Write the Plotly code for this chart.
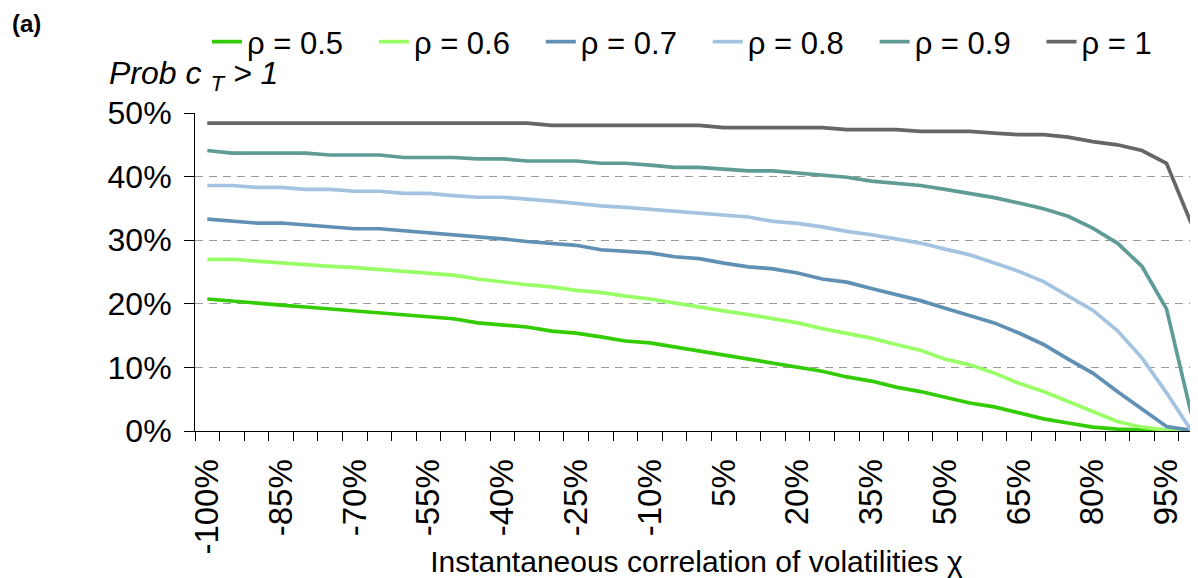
import plotly.graph_objects as go

# ── data ───────────────────────────────────────────────────────────────────────
CHI = [-100, -95, -90, -85, -80, -75, -70, -65, -60, -55, -50, -45, -40, -35,
       -30, -25, -20, -15, -10, -5, 0, 5, 10, 15, 20, 25, 30, 35, 40, 45, 50,
       55, 60, 65, 70, 75, 80, 85, 90, 95, 100]

TICK_VALS = [-100, -85, -70, -55, -40, -25, -10, 5, 20, 35, 50, 65, 80, 95]
TICK_TEXT = [f"{v}%" for v in TICK_VALS]

Y_VALS = [0, 10, 20, 30, 40, 50]
Y_TEXT = [f"{v}%" for v in Y_VALS]

RHO_05 = [20.75, 20.4, 20.1, 19.8, 19.5, 19.2, 18.9, 18.65, 18.3, 18.0, 17.65, 17.0,
          16.65, 16.35, 15.7, 15.4, 14.8, 14.15, 13.85, 13.2, 12.6, 11.95, 11.3, 10.7,
          10.05, 9.4, 8.5, 7.85, 6.9, 6.2, 5.3, 4.4, 3.8, 2.9, 1.9, 1.25, 0.6, 0.3,
          0.15, 0.05, 0.0]
RHO_06 = [27.0, 27.0, 26.7, 26.4, 26.15, 25.9, 25.7, 25.4, 25.1, 24.8, 24.5, 23.9,
          23.4, 23.0, 22.65, 22.1, 21.8, 21.2, 20.75, 20.1, 19.5, 18.9, 18.3, 17.65,
          17.0, 16.1, 15.4, 14.6, 13.6, 12.7, 11.3, 10.4, 9.1, 7.5, 6.2, 4.65, 3.1,
          1.5, 0.6, 0.15, 0.0]
RHO_07 = [33.3, 33.0, 32.7, 32.7, 32.4, 32.1, 31.8, 31.8, 31.5, 31.2, 30.9, 30.5,
          30.2, 29.8, 29.55, 29.2, 28.5, 28.25, 28.0, 27.4, 27.1, 26.4, 25.8, 25.5,
          24.85, 23.9, 23.4, 22.4, 21.4, 20.5, 19.3, 18.1, 17.0, 15.4, 13.6, 11.3,
          9.1, 6.2, 3.5, 0.7, 0.1]
RHO_08 = [38.6, 38.6, 38.3, 38.3, 38.0, 38.0, 37.7, 37.7, 37.35, 37.35, 37.0, 36.75,
          36.75, 36.5, 36.15, 35.8, 35.4, 35.15, 34.85, 34.6, 34.3, 33.95, 33.65, 32.95,
          32.65, 32.1, 31.4, 30.85, 30.2, 29.55, 28.6, 27.7, 26.4, 25.1, 23.5, 21.3,
          19.0, 15.8, 11.5, 6.0, 0.1]
RHO_09 = [44.1, 43.7, 43.7, 43.7, 43.7, 43.4, 43.4, 43.4, 43.0, 43.0, 43.0, 42.8,
          42.8, 42.45, 42.45, 42.45, 42.1, 42.1, 41.8, 41.45, 41.45, 41.2, 40.9, 40.9,
          40.55, 40.25, 39.9, 39.3, 39.0, 38.6, 38.0, 37.4, 36.7, 35.85, 34.95, 33.75,
          31.9, 29.55, 25.9, 19.2, 2.8]
RHO_10 = [48.4, 48.4, 48.4, 48.4, 48.4, 48.4, 48.4, 48.4, 48.4, 48.4, 48.4, 48.4,
          48.4, 48.4, 48.05, 48.05, 48.05, 48.05, 48.05, 48.05, 48.05, 47.7, 47.7, 47.7,
          47.7, 47.7, 47.4, 47.4, 47.4, 47.1, 47.1, 47.1, 46.85, 46.6, 46.6, 46.2,
          45.5, 45.0, 44.1, 42.1, 32.7]

PAD = "\u00a0" * 3   # keeps the legend entries evenly spaced like the original
SERIES = [
    ("ρ = 0.5" + PAD, RHO_05, "#33CC00"),
    ("ρ = 0.6" + PAD, RHO_06, "#99FF66"),
    ("ρ = 0.7" + PAD, RHO_07, "#6190B5"),
    ("ρ = 0.8" + PAD, RHO_08, "#A3C3E0"),
    ("ρ = 0.9" + PAD, RHO_09, "#5F9C96"),
    ("ρ = 1",         RHO_10, "#666666"),
]

FONT = "Liberation Sans, Arial, sans-serif"
GRID = "#9A9A9A"

# page body has an 8px margin, so the figure sits at (8, 8) in the window
W, H = 1190, 570
L, T, B = 187, 105, 147
PW, PH = W - L, H - T - B

fig = go.Figure()
for name, ys, color in SERIES:
    fig.add_trace(go.Scatter(x=CHI, y=ys, mode="lines", name=name,
                             line=dict(color=color, width=3.7)))

fig.update_layout(
    width=W, height=H,
    paper_bgcolor="white", plot_bgcolor="white",
    font=dict(family=FONT, color="black", size=32),
    margin=dict(l=L, r=0, t=T, b=B),
    showlegend=True,
    legend=dict(orientation="h", xref="container", yref="container",
                x=199 / W, y=1 - 34 / H, xanchor="left", yanchor="middle",
                font=dict(size=31), tracegroupgap=0, itemwidth=30,
                bgcolor="rgba(0,0,0,0)"),
    xaxis=dict(
        range=[-102.5, 101.4], tickmode="array", tickvals=TICK_VALS, ticktext=TICK_TEXT,
        tickangle=-90, ticks="", showgrid=False, zeroline=False, automargin=False,
        showline=True, linecolor="black", linewidth=1,
        ticklabelstandoff=14, tickfont=dict(size=33),
        minor=dict(ticks="outside", tick0=-102.5, dtick=5, ticklen=9,
                   tickcolor="black", tickwidth=1, showgrid=False),
        title=dict(text="Instantaneous correlation of volatilities χ",
                   font=dict(size=30), standoff=0),
    ),
    yaxis=dict(
        range=[0, 50], tickmode="array", tickvals=Y_VALS, ticktext=Y_TEXT,
        ticks="outside", ticklen=10, tickcolor="black", tickwidth=1, automargin=False,
        showline=True, linecolor="black", linewidth=1, zeroline=False,
        showgrid=True, gridcolor=GRID, gridwidth=1, griddash="8px,6px",
        ticklabelstandoff=6, tickfont=dict(size=32),
    ),
    annotations=[
        dict(text="<b>(a)</b>", xref="paper", yref="paper", x=(2 - L) / PW, y=1 + (T - 15) / PH,
             xanchor="left", yanchor="middle", showarrow=False,
             font=dict(size=24, family=FONT)),
        dict(text="<i>Prob c <sub>T</sub> > 1</i>", xref="paper", yref="paper",
             x=(99 - L) / PW, y=1 + (T - 67) / PH, xanchor="left", yanchor="middle",
             showarrow=False, font=dict(size=32, family=FONT)),
    ],
)

fig.write_html("out.html")
